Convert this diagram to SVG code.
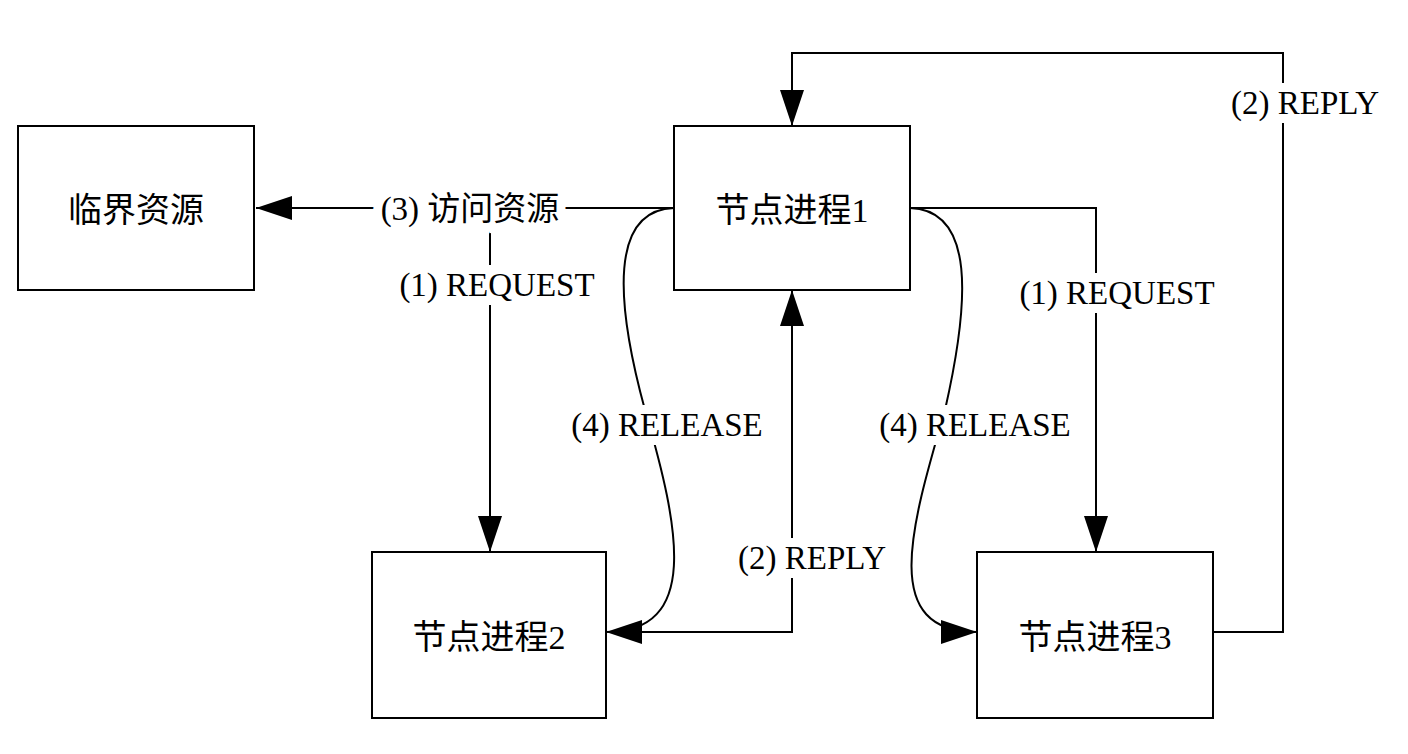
<svg xmlns="http://www.w3.org/2000/svg" width="1408" height="754" viewBox="0 0 1408 754">
<style>
.box{fill:#fff;stroke:#000;stroke-width:2}
.ln{fill:none;stroke:#000;stroke-width:2}
.t{font-family:"Liberation Serif","Noto Sans CJK SC",serif;font-size:34px;fill:#000;text-anchor:middle;dominant-baseline:central}
.lb{font-family:"Liberation Serif","Noto Sans CJK SC",serif;font-size:33px;fill:#000;text-anchor:middle;dominant-baseline:central;stroke:#fff;stroke-width:18;paint-order:stroke}
</style>
<defs>
<marker id="a" markerUnits="userSpaceOnUse" markerWidth="40" markerHeight="30" refX="36" refY="12" orient="auto">
<path d="M0,0 L36,12 L0,24 Z" fill="#000"/>
</marker>
</defs>
<rect width="1408" height="754" fill="#fff"/>
<g id="connectors">
<path class="ln" d="M674,208 L256,208" marker-end="url(#a)"/>
<path class="ln" d="M490,208 L490,552" marker-end="url(#a)"/>
<path class="ln" d="M674,208 C610,210 615,300 645,410 C680,530 700,632 606,632" marker-end="url(#a)"/>
<path class="ln" d="M640,632 L792,632 L792,290" marker-end="url(#a)"/>
<path class="ln" d="M910,208 L1096,208 L1096,552" marker-end="url(#a)"/>
<path class="ln" d="M910,208 C975,210 970,300 945,410 C910,530 880,632 977,632" marker-end="url(#a)"/>
<path class="ln" d="M1213,632 L1283,632 L1283,53 L792,53 L792,126" marker-end="url(#a)"/>
<text class="lb" x="470" y="209">(3) 访问资源</text>
<text class="lb" x="497" y="285">(1) REQUEST</text>
<text class="lb" x="667" y="425">(4) RELEASE</text>
<text class="lb" x="812" y="558">(2) REPLY</text>
<text class="lb" x="1117" y="293">(1) REQUEST</text>
<text class="lb" x="975" y="425">(4) RELEASE</text>
<text class="lb" x="1305" y="103">(2) REPLY</text>
</g>
<g id="n0"><rect class="box" x="18" y="126" width="236" height="164"/><text class="t" x="136" y="210">临界资源</text></g>
<g id="n1"><rect class="box" x="674" y="126" width="236" height="164"/><text class="t" x="792" y="210">节点进程1</text></g>
<g id="n2"><rect class="box" x="372" y="552" width="234" height="166"/><text class="t" x="489" y="637">节点进程2</text></g>
<g id="n3"><rect class="box" x="977" y="552" width="236" height="166"/><text class="t" x="1095" y="637">节点进程3</text></g>
</svg>
